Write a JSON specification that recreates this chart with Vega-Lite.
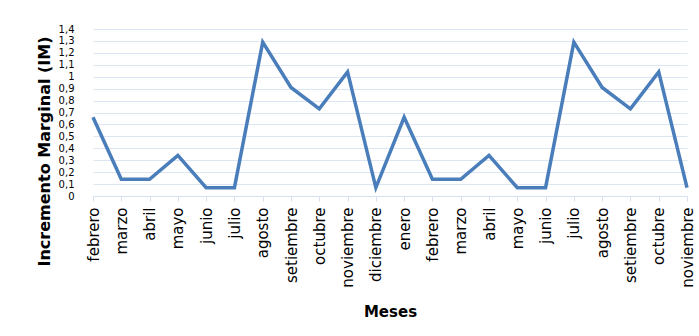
{
  "$schema": "https://vega.github.io/schema/vega-lite/v6.json",
  "width": 594,
  "height": 167,
  "autosize": {"type": "none"},
  "padding": {"left": 93, "top": 29, "right": 12, "bottom": 140},
  "background": "white",
  "config": {"view": {"stroke": null}},
  "data": {
    "values": [
      {"periodo": "febrero-1", "im": 0.66},
      {"periodo": "marzo-1", "im": 0.14},
      {"periodo": "abril-1", "im": 0.14},
      {"periodo": "mayo-1", "im": 0.34},
      {"periodo": "junio-1", "im": 0.07},
      {"periodo": "julio-1", "im": 0.07},
      {"periodo": "agosto-1", "im": 1.29},
      {"periodo": "setiembre-1", "im": 0.91},
      {"periodo": "octubre-1", "im": 0.73},
      {"periodo": "noviembre-1", "im": 1.04},
      {"periodo": "diciembre-1", "im": 0.07},
      {"periodo": "enero-2", "im": 0.66},
      {"periodo": "febrero-2", "im": 0.14},
      {"periodo": "marzo-2", "im": 0.14},
      {"periodo": "abril-2", "im": 0.34},
      {"periodo": "mayo-2", "im": 0.07},
      {"periodo": "junio-2", "im": 0.07},
      {"periodo": "julio-2", "im": 1.29},
      {"periodo": "agosto-2", "im": 0.91},
      {"periodo": "setiembre-2", "im": 0.73},
      {"periodo": "octubre-2", "im": 1.04},
      {"periodo": "noviembre-2", "im": 0.07}
    ]
  },
  "mark": {"type": "line", "color": "#4a7ebb", "strokeWidth": 3.5, "strokeJoin": "miter"},
  "encoding": {
    "x": {
      "field": "periodo",
      "type": "ordinal",
      "sort": null,
      "scale": {"type": "point", "padding": 0},
      "axis": {
        "title": "Meses",
        "titleFont": "DejaVu Sans",
        "titleFontSize": 15,
        "titleFontWeight": "bold",
        "titleColor": "#000",
        "titleY": 120,
        "titleBaseline": "alphabetic",
        "labelExpr": "split(datum.value, '-')[0]",
        "labelAngle": -90,
        "labelAlign": "right",
        "labelBaseline": "middle",
        "labelFont": "DejaVu Sans",
        "labelFontSize": 15,
        "labelColor": "#000",
        "labelPadding": 6,
        "labelOverlap": false,
        "domainColor": "#d5e1ef",
        "tickColor": "#d5e1ef",
        "tickSize": 5,
        "grid": false
      }
    },
    "y": {
      "field": "im",
      "type": "quantitative",
      "scale": {"domain": [0, 1.4], "nice": false},
      "axis": {
        "title": "Incremento Marginal (IM)",
        "titleFont": "DejaVu Sans",
        "titleFontSize": 16,
        "titleFontWeight": "bold",
        "titleColor": "#000",
        "titleAngle": -90,
        "titleAlign": "center",
        "titleBaseline": "middle",
        "titleX": -49,
        "titleY": 122,
        "values": [0, 0.1, 0.2, 0.3, 0.4, 0.5, 0.6, 0.7, 0.8, 0.9, 1, 1.1, 1.2, 1.3, 1.4],
        "labelExpr": "replace(format(datum.value, '.2~f'), '.', ',')",
        "labelFont": "DejaVu Sans",
        "labelFontSize": 10,
        "labelColor": "#000",
        "labelOverlap": false,
        "labelPadding": 19,
        "ticks": false,
        "tickSize": 0,
        "domain": false,
        "grid": true,
        "gridColor": "#dce6f2",
        "gridWidth": 1
      }
    }
  }
}
